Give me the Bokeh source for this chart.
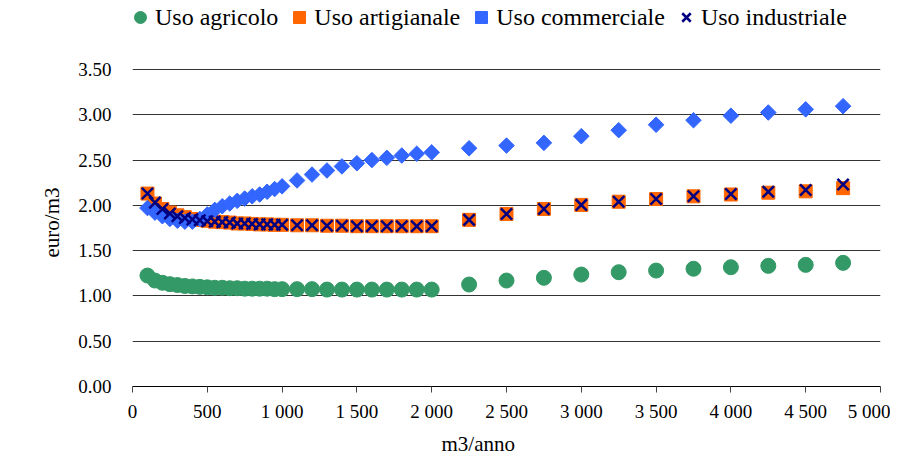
import math
from bokeh.plotting import figure
from bokeh.models import Range1d, FixedTicker, Legend, LegendItem, ColumnDataSource, Title
from bokeh.embed import file_html
from bokeh.resources import INLINE

# data
volumes = [100, 150, 200, 250, 300, 350, 400, 450, 500, 550, 600, 650, 700, 750, 800, 850, 900, 950, 1000,
           1100, 1200, 1300, 1400, 1500, 1600, 1700, 1800, 1900, 2000,
           2250, 2500, 2750, 3000, 3250, 3500, 3750, 4000, 4250, 4500, 4750]

agricolo = [1.225, 1.17, 1.145, 1.13, 1.12, 1.11, 1.105, 1.10, 1.095, 1.09, 1.09, 1.085, 1.085, 1.08, 1.08, 1.08, 1.08, 1.075, 1.075,
            1.075, 1.075, 1.07, 1.07, 1.07, 1.07, 1.07, 1.07, 1.07, 1.07,
            1.126, 1.17, 1.20, 1.236, 1.262, 1.28, 1.30, 1.317, 1.332, 1.343, 1.365]

artigianale = [2.13, 2.02, 1.96, 1.92, 1.89, 1.87, 1.85, 1.84, 1.83, 1.82, 1.815, 1.81, 1.80, 1.80, 1.795, 1.79, 1.79, 1.785, 1.785,
               1.78, 1.78, 1.775, 1.775, 1.77, 1.77, 1.77, 1.77, 1.77, 1.77,
               1.84, 1.905, 1.96, 2.005, 2.04, 2.07, 2.10, 2.12, 2.14, 2.155, 2.19]

commerciale = [1.97, 1.92, 1.88, 1.85, 1.83, 1.82, 1.82, 1.85, 1.90, 1.95, 1.99, 2.02, 2.05, 2.075, 2.10, 2.12, 2.15, 2.18, 2.21,
               2.275, 2.34, 2.385, 2.43, 2.465, 2.50, 2.525, 2.55, 2.57, 2.585,
               2.63, 2.66, 2.69, 2.764, 2.83, 2.89, 2.94, 2.99, 3.025, 3.06, 3.095]

industriale = [2.13, 2.03, 1.96, 1.91, 1.88, 1.86, 1.845, 1.835, 1.825, 1.82, 1.815, 1.81, 1.80, 1.80, 1.795, 1.79, 1.79, 1.785, 1.785,
               1.78, 1.78, 1.775, 1.775, 1.77, 1.77, 1.77, 1.77, 1.77, 1.77,
               1.84, 1.905, 1.96, 2.005, 2.04, 2.07, 2.10, 2.125, 2.15, 2.17, 2.23]

x_ticks = [0, 500, 1000, 1500, 2000, 2500, 3000, 3500, 4000, 4500, 5000]
x_tick_labels = ["0", "500", "1 000", "1 500", "2 000", "2 500", "3 000", "3 500", "4 000", "4 500", "5 000"]
y_ticks = [0.0, 0.5, 1.0, 1.5, 2.0, 2.5, 3.0, 3.5]
y_tick_labels = ["0.00", "0.50", "1.00", "1.50", "2.00", "2.50", "3.00", "3.50"]

series_names = ["Uso agricolo", "Uso artigianale", "Uso commerciale", "Uso industriale"]

FONT = "Liberation Serif"

# layout: plot area 317 px for 0..3.5, plus 69 px of headroom for the legend
PLOT_H = 317
TOP_PAD = 69
Y_TOP = 3.5 + TOP_PAD * 3.5 / PLOT_H

src = ColumnDataSource(dict(x=volumes, agr=agricolo, art=artigianale, com=commerciale, ind=industriale))

p = figure(title=None, frame_width=748, frame_height=PLOT_H + TOP_PAD, output_backend="svg", toolbar_location=None,
           x_range=Range1d(0, 5000), y_range=Range1d(0, Y_TOP),
           min_border_left=132, min_border_right=10, min_border_top=0, min_border_bottom=71)
p.outline_line_color = None
p.background_fill_color = "white"
p.border_fill_color = "white"

r_agr = p.scatter("x", "agr", source=src, marker="circle", size=15, fill_color="#339966", line_color="#339966")
r_art = p.scatter("x", "art", source=src, marker="square", size=13, fill_color="#FF6600", line_color="#FF6600")
r_com = p.scatter("x", "com", source=src, marker="square", angle=math.pi / 4, size=11,
                  fill_color="#3366FF", line_color="#3366FF")
r_ind = p.scatter("x", "ind", source=src, marker="x", size=16, line_color="#000080", line_width=2.5)

# axes
p.xaxis.ticker = FixedTicker(ticks=x_ticks)
p.xaxis.major_label_overrides = {t: l for t, l in zip(x_ticks, x_tick_labels)}
p.xaxis.minor_tick_line_color = None
p.xaxis.major_tick_in = 0
p.xaxis.major_tick_out = 6
p.xaxis.major_tick_line_color = "#444444"
p.xaxis.axis_line_color = "black"
p.xaxis.major_label_text_font = FONT
p.xaxis.major_label_text_font_size = "19px"
p.xaxis.major_label_text_color = "black"
p.xaxis.major_label_standoff = 8

p.add_layout(Title(text="m3/anno", align="left", offset=309, standoff=10,
                   text_font=FONT, text_font_size="21px", text_font_style="normal",
                   text_color="black"), "below")

p.yaxis.ticker = FixedTicker(ticks=y_ticks)
p.yaxis.major_label_overrides = {t: l for t, l in zip(y_ticks, y_tick_labels)}
p.yaxis.minor_tick_line_color = None
p.yaxis.major_tick_line_color = None
p.yaxis.axis_line_color = None
p.yaxis.major_label_text_font = FONT
p.yaxis.major_label_text_font_size = "19px"
p.yaxis.major_label_text_color = "black"
p.yaxis.major_label_standoff = 15

p.add_layout(Title(text="euro/m3", align="left", offset=129, standoff=20, vertical_align="top",
                   text_font=FONT, text_font_size="21px", text_font_style="normal",
                   text_color="black"), "left")

p.xgrid.grid_line_color = None
p.ygrid.grid_line_color = "#333333"
p.ygrid.grid_line_width = 1

legend = Legend(items=[LegendItem(label=series_names[0], renderers=[r_agr]),
                       LegendItem(label=series_names[1], renderers=[r_art]),
                       LegendItem(label=series_names[2], renderers=[r_com]),
                       LegendItem(label=series_names[3], renderers=[r_ind])],
                orientation="horizontal", location=(-7, 354),
                label_text_font=FONT, label_text_font_size="24px", label_text_color="black",
                label_standoff=0, glyph_width=30, glyph_height=30, spacing=6,
                padding=0, margin=0, border_line_color=None, background_fill_alpha=0)
p.add_layout(legend, "center")

open("out.html", "w").write(file_html(p, INLINE))
